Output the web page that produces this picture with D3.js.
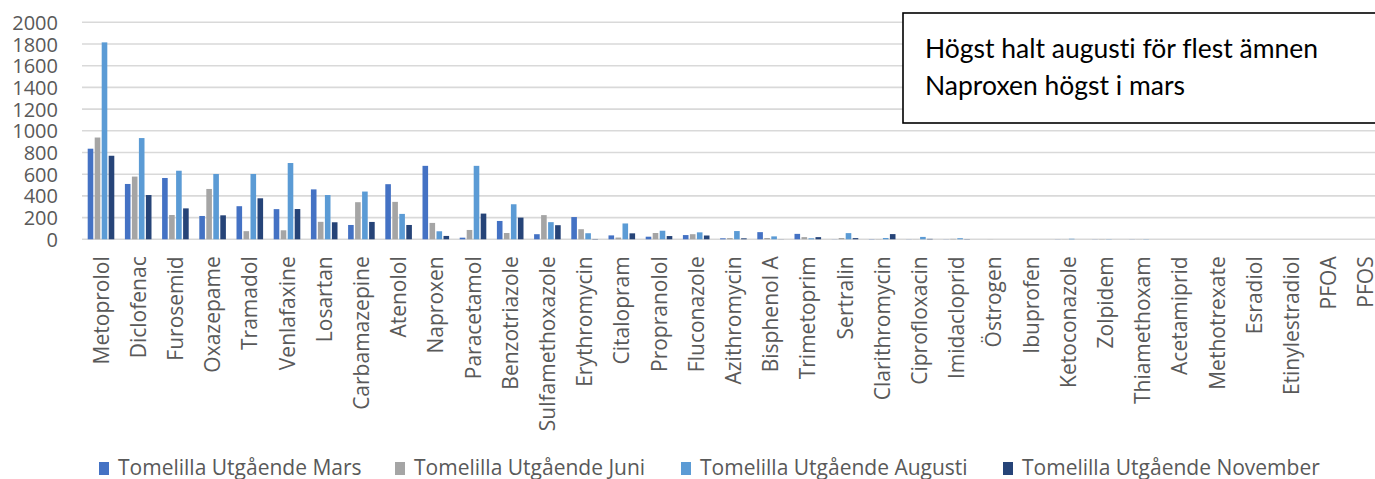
<!DOCTYPE html>
<html><head><meta charset="utf-8">
<script src="https://cdn.jsdelivr.net/npm/d3@7"></script>
<style>
html,body{margin:0;padding:0;background:#fff;}
svg{display:block;}
text{font-variant-ligatures:none;}
</style></head>
<body>
<svg id="chart" width="1375" height="479"></svg>
<script>
const categories = ["Metoprolol","Diclofenac","Furosemid","Oxazepame","Tramadol","Venlafaxine","Losartan","Carbamazepine","Atenolol","Naproxen","Paracetamol","Benzotriazole","Sulfamethoxazole","Erythromycin","Citalopram","Propranolol","Fluconazole","Azithromycin","Bisphenol A","Trimetoprim","Sertralin","Clarithromycin","Ciprofloxacin","Imidacloprid","Östrogen","Ibuprofen","Ketoconazole","Zolpidem","Thiamethoxam","Acetamiprid","Methotrexate","Esradiol","Etinylestradiol","PFOA","PFOS"];
const seriesNames = ["Tomelilla Utgående Mars","Tomelilla Utgående Juni","Tomelilla Utgående Augusti","Tomelilla Utgående November"];
const mars     = [835,510,565,215,305,278,460,132,508,677,15,169,47,205,36,24,39,9,66,50,1,2,1,1,0,0,1,1,1,0,0,0,0,0,0];
const juni     = [938,578,224,464,75,83,161,342,345,151,86,58,223,93,16,58,47,11,12,20,12,2,1,4,1,0,1,2,1,0,0,0,0,0,0];
const augusti  = [1815,933,632,602,602,703,408,440,234,74,677,323,158,56,146,79,64,76,27,9,57,12,22,10,0,0,5,2,2,0,0,0,0,0,0];
const november = [770,408,285,221,378,279,157,160,132,31,237,200,130,3,55,30,35,9,1,20,11,48,4,2,0,0,0,0,0,0,0,0,0,0,0];
const yTicks = [0,200,400,600,800,1000,1200,1400,1600,1800,2000];
const colors = ["#4472C4","#A5A5A5","#5B9BD5","#264478"];
const annotation = ["Högst halt augusti för flest ämnen","Naproxen högst i mars"];

const seriesValues = [mars, juni, augusti, november];
const svg = d3.select("#chart");

const x0 = d3.scaleBand().domain(categories).range([82.4, 82.4 + 35*37.2]).paddingInner(0).paddingOuter(0);
const x1 = d3.scaleBand().domain(d3.range(4)).range([4.6, 37.2-4.6]).paddingInner(0.2).paddingOuter(0.1);
const y = d3.scaleLinear().domain([0,2000]).range([239.3, 22.3]);

// gridlines
svg.append("g").selectAll("line").data(yTicks).join("line")
  .attr("x1", 82).attr("x2", 1375)
  .attr("y1", d => y(d)).attr("y2", d => y(d))
  .attr("stroke", "#D9D9D9").attr("stroke-width", 1.6);

// y axis labels
const yAxis = d3.axisLeft(y).tickValues(yTicks).tickFormat(d3.format("d")).tickSize(0).tickPadding(0);
const yg = svg.append("g").attr("transform","translate(58,0)").call(yAxis);
yg.select(".domain").remove();
yg.selectAll("text").attr("font-family","'Open Sans'").attr("font-size","20px").attr("fill","#595959").attr("dy","0.35em");

// bars
const groups = svg.append("g").selectAll("g").data(categories).join("g")
  .attr("transform", d => `translate(${x0(d)},0)`);
groups.selectAll("rect").data((d,i) => seriesValues.map((s,k) => ({k, v: s[i]}))).join("rect")
  .attr("x", d => x1(d.k)).attr("width", x1.bandwidth())
  .attr("y", d => y(d.v)).attr("height", d => y(0) - y(d.v))
  .attr("fill", d => colors[d.k]);

// x axis
const xAxis = d3.axisBottom(x0).tickSize(0).tickPadding(0);
const xg = svg.append("g").attr("transform", `translate(0,${y(0)})`).call(xAxis);
xg.select(".domain").remove();
xg.selectAll("text")
  .attr("font-family","'Open Sans'").attr("font-size","21px").attr("fill","#595959")
  .attr("text-anchor","end").attr("transform","rotate(-90)")
  .attr("x", -17).attr("y", 0).attr("dy","0.36em");

// annotation box
svg.append("rect").attr("x", 903).attr("y", 13).attr("width", 480).attr("height", 110)
  .attr("fill","#fff").attr("stroke","#000").attr("stroke-width",1.6);
svg.append("g").selectAll("text").data(annotation).join("text")
  .attr("x", 925).attr("y", (d,i) => 58 + i*37)
  .attr("font-family","Lato").attr("font-size","26.5px").attr("fill","#000").text(d => d);

// legend
const legendX = [99, 395, 681, 1003];
const lg = svg.append("g").selectAll("g").data(seriesNames).join("g")
  .attr("transform", (d,i) => `translate(${legendX[i]},0)`);
lg.append("rect").attr("x",0).attr("y",462).attr("width",10).attr("height",13).attr("fill",(d,i)=>colors[i]);
lg.append("text").attr("x",19).attr("y",475).attr("font-family","'Open Sans'").attr("font-size","21px").attr("fill","#595959").text(d=>d);
</script>
</body></html>
